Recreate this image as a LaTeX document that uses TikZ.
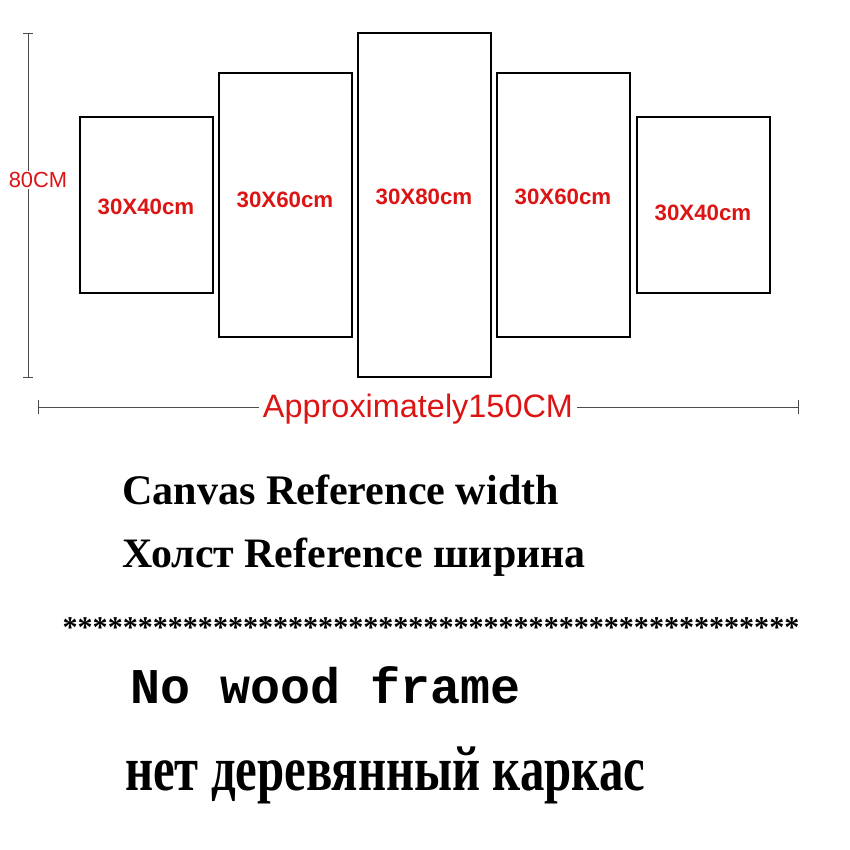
\documentclass[tikz,border=0pt]{standalone}
\usepackage{fontspec}
\usepackage{graphicx}
\setmainfont{Liberation Serif}
\setsansfont{Liberation Sans}
\setmonofont{Liberation Mono}
\definecolor{dimred}{RGB}{220,20,20}
\tikzset{
    panel/.style={draw=black, line width=1.6pt},
    size/.style={text=dimred, font=\sffamily\bfseries\fontsize{19}{19}\selectfont},
    dimline/.style={draw=black!70, line width=0.6pt},
}
\newcommand{\fitw}[2]{\resizebox{#1}{!}{#2}}
\begin{document}
\begin{tikzpicture}[x=0.03cm, y=-0.03cm]
	\useasboundingbox (0,0) rectangle (850,850);
	% panels
	\draw[panel] (80,117) rectangle (213,293);
	\draw[panel] (219,73) rectangle (352,337);
	\draw[panel] (358,33) rectangle (491,377);
	\draw[panel] (497,73) rectangle (630,337);
	\draw[panel] (637,117) rectangle (770,293);
	\node[size] (p1) at (146,207) {30X40cm};
	\node[size] (p2) at (285,200) {30X60cm};
	\node[size] (p3) at (424,197) {30X80cm};
	\node[size] (p4) at (563,197) {30X60cm};
	\node[size] (p5) at (703,213) {30X40cm};
	% height
	\coordinate (ht) at (28,33);
	\coordinate (hb) at (28,377);
	\draw[dimline] (ht) -- (hb);
	\draw[dimline] (23,33) -- (33,33);
	\draw[dimline] (23,377) -- (33,377);
	\node[fill=white, inner sep=1pt, text=dimred] (h) at (38,180) {\sffamily\fitw{1.75cm}{80CM}};
	% width
	\node[inner sep=3pt, text=dimred] (w) at (418,409) {\sffamily\fitw{9.3cm}{Approximately150CM}};
	\coordinate (wl) at (38,407);
	\coordinate (wr) at (798,407);
	\draw[dimline] (wl) -- (wl -| w.west);
	\draw[dimline] (wr -| w.east) -- (wr);
	\draw[dimline] (38,400) -- (38,414);
	\draw[dimline] (798,400) -- (798,414);
	% notes
	\node[anchor=west, inner sep=0pt] (t1) at (122,490) {\fitw{13.1cm}{\bfseries Canvas Reference width}};
	\node[anchor=west, inner sep=0pt] (t2) at (122,557) {\fitw{13.9cm}{\bfseries Холст Reference ширина}};
	\node[inner sep=0pt] (t3) at (431,628) {\fitw{22.1cm}{\bfseries *************************************************}};
	\node[anchor=west, inner sep=0pt] (t4) at (130,685) {\fitw{11.7cm}{\ttfamily\bfseries No wood frame}};
	\node[anchor=west, inner sep=0pt] (t5) at (125,775) {\scalebox{1}[1.3]{\fitw{15.6cm}{\bfseries\fontsize{20}{20}\selectfont нет деревянный каркас}}};
\end{tikzpicture}
\end{document}
